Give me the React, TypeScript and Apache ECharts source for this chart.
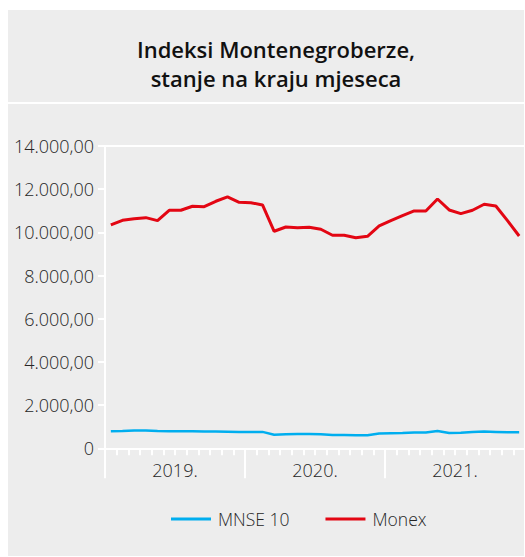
import React, { useEffect, useRef } from "react";
import * as echarts from "echarts";

const years = ["2019.", "2020.", "2021."];
const months = [
  "2019-01","2019-02","2019-03","2019-04","2019-05","2019-06","2019-07","2019-08","2019-09","2019-10","2019-11","2019-12",
  "2020-01","2020-02","2020-03","2020-04","2020-05","2020-06","2020-07","2020-08","2020-09","2020-10","2020-11","2020-12",
  "2021-01","2021-02","2021-03","2021-04","2021-05","2021-06","2021-07","2021-08","2021-09","2021-10","2021-11","2021-12",
];
const mnse10 = [
  787, 800, 830, 830, 800, 790, 790, 790, 780, 775, 770, 760,
  755, 760, 630, 650, 665, 660, 645, 620, 620, 610, 600, 690,
  700, 710, 730, 735, 800, 710, 715, 750, 780, 760, 740, 740,
];
const monex = [
  10343, 10560, 10635, 10681, 10542, 11023, 11023, 11209, 11190, 11440, 11640, 11394,
  11376, 11269, 10051, 10250, 10218, 10236, 10143, 9866, 9866, 9755, 9819, 10296,
  10542, 10774, 10991, 10991, 11547, 11038, 10866, 11023, 11301, 11223, 10542, 9833,
];
const titleLines = ["Indeksi Montenegroberze,", "stanje na kraju mjeseca"];

const FONT = "'Open Sans', 'Noto Sans', sans-serif";
const TEXT = "#262626";

function fmt(v: number): string {
  if (v === 0) return "0";
  const int = Math.round(v).toString().replace(/\B(?=(\d{3})+(?!\d))/g, ".");
  return int + ",00";
}

export default function App() {
  const ref = useRef<HTMLDivElement>(null);
  useEffect(() => {
    if (!ref.current) return;
    const chart = echarts.init(ref.current, null, { renderer: "svg" });
    const white = { color: "#ffffff", width: 2 };
    chart.setOption({
      animation: false,
      backgroundColor: "#ffffff",
      graphic: [
        { type: "rect", z: -10, silent: true, shape: { x: 8, y: 10, width: 516, height: 546 }, style: { fill: "#ededed" } },
        { type: "rect", z: -9, silent: true, shape: { x: 8, y: 102, width: 516, height: 2 }, style: { fill: "#ffffff" } },
      ],
      title: {
        text: titleLines.join("\n"),
        left: 271,
        top: 29,
        textAlign: "center",
        textStyle: { fontFamily: FONT, fontSize: 22, fontWeight: 600, color: "#111", lineHeight: 29 },
      },
      legend: {
        data: ["MNSE 10", "Monex"],
        left: 166,
        top: 505,
        icon: "rect",
        itemWidth: 40,
        itemHeight: 3,
        itemGap: 36,
        textStyle: { fontFamily: FONT, fontSize: 17.5, color: TEXT, fontWeight: 300, padding: [0, 0, 0, 2] },
      },
      grid: { left: 105, top: 146, width: 423.7, bottom: 108.7, containLabel: false },
      xAxis: [
        {
          type: "category",
          data: months,
          position: "bottom",
          boundaryGap: true,
          axisLine: { show: true, lineStyle: white },
          axisTick: { show: true, interval: 0, length: 7, lineStyle: white },
          axisLabel: { show: false },
          splitLine: { show: false },
        },
        {
          type: "category",
          data: years,
          position: "bottom",
          boundaryGap: true,
          axisLine: { show: false },
          axisTick: { show: true, interval: 0, length: 30, lineStyle: white },
          axisLabel: { show: true, interval: 0, fontFamily: FONT, fontSize: 18, fontWeight: 300, color: TEXT, margin: 13 },
          splitLine: { show: false },
        },
        {
          type: "category",
          data: months,
          position: "top",
          axisLine: { show: true, lineStyle: white },
          axisTick: { show: false },
          axisLabel: { show: false },
          splitLine: { show: false },
        },
      ],
      yAxis: {
        type: "value",
        min: 0,
        max: 14000,
        interval: 2000,
        axisLine: { show: true, lineStyle: white },
        axisTick: { show: true, length: 7, lineStyle: white },
        axisLabel: { fontFamily: FONT, fontSize: 18, fontWeight: 300, color: TEXT, margin: 11, formatter: fmt },
        splitLine: { show: false },
      },
      series: [
        {
          name: "MNSE 10",
          type: "line",
          xAxisIndex: 0,
          data: mnse10,
          showSymbol: false,
          symbol: "none",
          color: "#00aeef",
          lineStyle: { color: "#00aeef", width: 2.5 },
        },
        {
          name: "Monex",
          type: "line",
          xAxisIndex: 0,
          data: monex,
          showSymbol: false,
          symbol: "none",
          color: "#e30613",
          lineStyle: { color: "#e30613", width: 3 },
        },
      ],
    });
    return () => chart.dispose();
  }, []);
  return (
    <div
      ref={ref}
      style={{ position: "fixed", left: 0, top: 0, width: 525, height: 557 }}
    />
  );
}
